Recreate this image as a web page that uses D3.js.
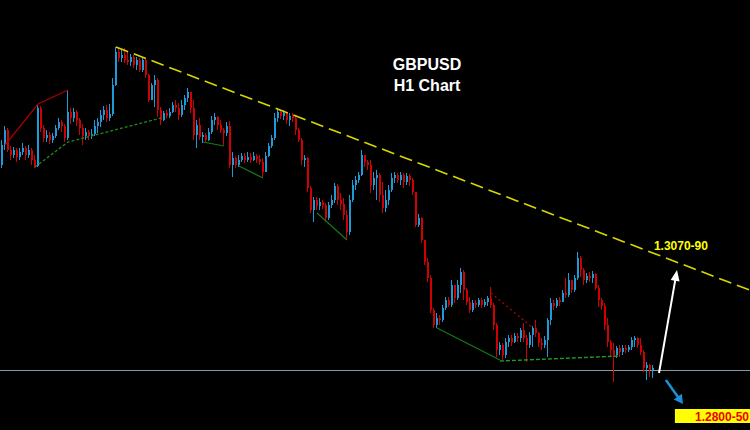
<!DOCTYPE html>
<html><head><meta charset="utf-8">
<script src="https://cdn.jsdelivr.net/npm/d3@7"></script>
<style>html,body{margin:0;padding:0;background:#000;}svg{display:block}</style>
</head><body><svg id="c" width="750" height="430"></svg>
<script>
// GBPUSD H1 candles (open of each bar = previous close)
const firstOpen = 1.3270;
const closes = [
1.3310,1.3340,1.3300,1.3290,1.3300,1.3286,1.3296,1.3304,1.3290,1.3300,
1.3280,1.3268,1.3384,1.3344,1.3324,1.3330,1.3320,1.3328,1.3344,1.3356,
1.3348,1.3324,1.3376,1.3364,1.3376,1.3360,1.3344,1.3328,1.3336,1.3328,
1.3332,1.3348,1.3356,1.3370,1.3380,1.3364,1.3372,1.3430,1.3496,1.3484,
1.3490,1.3480,1.3476,1.3486,1.3470,1.3480,1.3460,1.3480,1.3450,1.3400,
1.3430,1.3440,1.3380,1.3360,1.3374,1.3368,1.3376,1.3390,1.3384,1.3370,
1.3390,1.3404,1.3416,1.3384,1.3330,1.3350,1.3326,1.3330,1.3320,1.3336,
1.3360,1.3366,1.3350,1.3340,1.3334,1.3348,1.3270,1.3284,1.3270,1.3280,
1.3288,1.3280,1.3286,1.3280,1.3288,1.3282,1.3276,1.3256,1.3288,1.3308,
1.3324,1.3364,1.3376,1.3368,1.3374,1.3360,1.3368,1.3364,1.3340,1.3320,
1.3280,1.3284,1.3224,1.3180,1.3200,1.3188,1.3196,1.3190,1.3164,1.3190,
1.3200,1.3228,1.3200,1.3192,1.3170,1.3136,1.3200,1.3230,1.3240,1.3250,
1.3290,1.3276,1.3270,1.3230,1.3244,1.3250,1.3210,1.3184,1.3200,1.3220,
1.3244,1.3250,1.3240,1.3250,1.3236,1.3248,1.3240,1.3216,1.3150,1.3164,
1.3120,1.3076,1.3044,1.2980,1.2950,1.2964,1.2960,1.2984,1.3000,1.2990,
1.3030,1.3004,1.3030,1.3056,1.3020,1.2996,1.2980,1.2994,1.2990,1.3000,
1.2990,1.2996,1.3004,1.2990,1.2950,1.2900,1.2910,1.2890,1.2916,1.2924,
1.2916,1.2928,1.2924,1.2940,1.2924,1.2910,1.2930,1.2944,1.2934,1.2914,
1.2910,1.2920,1.2960,1.2994,1.2988,1.3000,1.2996,1.3014,1.3010,1.3040,
1.3020,1.3044,1.3084,1.3060,1.3040,1.3048,1.3044,1.3052,1.3024,1.3000,
1.2988,1.2950,1.2916,1.2900,1.2890,1.2904,1.2896,1.2904,1.2900,1.2906,
1.2920,1.2924,1.2910,1.2896,1.2864,1.2870,1.2860,1.2864];
const highs = [
1.3320,1.3348,1.3344,1.3308,1.3306,1.3304,1.3304,1.3314,1.3308,1.3310,
1.3304,1.3290,1.3392,1.3388,1.3350,1.3340,1.3336,1.3334,1.3350,1.3364,
1.3360,1.3352,1.3420,1.3384,1.3384,1.3380,1.3364,1.3352,1.3344,1.3340,
1.3342,1.3360,1.3364,1.3380,1.3388,1.3390,1.3392,1.3444,1.3506,1.3504,
1.3500,1.3504,1.3496,1.3492,1.3490,1.3486,1.3484,1.3484,1.3484,1.3452,
1.3434,1.3450,1.3444,1.3386,1.3378,1.3380,1.3384,1.3396,1.3400,1.3394,
1.3400,1.3410,1.3424,1.3416,1.3400,1.3360,1.3364,1.3336,1.3334,1.3344,
1.3368,1.3374,1.3368,1.3360,1.3344,1.3356,1.3358,1.3296,1.3288,1.3290,
1.3294,1.3294,1.3296,1.3294,1.3296,1.3292,1.3290,1.3284,1.3296,1.3314,
1.3330,1.3374,1.3384,1.3380,1.3380,1.3376,1.3374,1.3374,1.3370,1.3344,
1.3324,1.3290,1.3286,1.3228,1.3206,1.3206,1.3204,1.3200,1.3194,1.3196,
1.3210,1.3234,1.3232,1.3214,1.3204,1.3180,1.3210,1.3240,1.3248,1.3256,
1.3300,1.3290,1.3280,1.3280,1.3256,1.3260,1.3254,1.3236,1.3220,1.3230,
1.3254,1.3256,1.3254,1.3256,1.3254,1.3254,1.3252,1.3244,1.3216,1.3172,
1.3166,1.3120,1.3084,1.3050,1.2984,1.2974,1.2970,1.2990,1.3006,1.3006,
1.3040,1.3030,1.3040,1.3064,1.3060,1.3024,1.3006,1.3000,1.3000,1.3004,
1.3004,1.3002,1.3008,1.3026,1.2994,1.2954,1.2916,1.2914,1.2924,1.2930,
1.2930,1.2934,1.2934,1.2944,1.2954,1.2930,1.2936,1.2948,1.2960,1.2936,
1.2924,1.2928,1.2964,1.3004,1.3000,1.3004,1.3006,1.3020,1.3044,1.3054,
1.3040,1.3050,1.3096,1.3088,1.3064,1.3054,1.3056,1.3058,1.3054,1.3030,
1.3004,1.2994,1.2964,1.2920,1.2914,1.2908,1.2910,1.2910,1.2910,1.2910,
1.2926,1.2928,1.2926,1.2924,1.2900,1.2876,1.2872,1.2870];
const lows = [
1.3264,1.3300,1.3296,1.3280,1.3284,1.3276,1.3280,1.3290,1.3280,1.3284,
1.3270,1.3264,1.3266,1.3336,1.3316,1.3316,1.3312,1.3314,1.3324,1.3340,
1.3336,1.3316,1.3320,1.3352,1.3356,1.3348,1.3330,1.3310,1.3320,1.3320,
1.3322,1.3328,1.3334,1.3346,1.3360,1.3356,1.3358,1.3368,1.3428,1.3476,
1.3476,1.3474,1.3470,1.3468,1.3464,1.3460,1.3456,1.3456,1.3444,1.3396,
1.3400,1.3386,1.3366,1.3350,1.3358,1.3364,1.3364,1.3374,1.3376,1.3360,
1.3366,1.3380,1.3396,1.3374,1.3320,1.3304,1.3320,1.3314,1.3314,1.3318,
1.3332,1.3350,1.3340,1.3334,1.3310,1.3328,1.3264,1.3246,1.3264,1.3266,
1.3276,1.3274,1.3276,1.3274,1.3278,1.3274,1.3270,1.3244,1.3256,1.3286,
1.3304,1.3320,1.3356,1.3362,1.3360,1.3352,1.3348,1.3356,1.3330,1.3316,
1.3270,1.3266,1.3216,1.3174,1.3156,1.3180,1.3180,1.3182,1.3156,1.3160,
1.3184,1.3194,1.3190,1.3180,1.3160,1.3120,1.3130,1.3196,1.3220,1.3234,
1.3248,1.3266,1.3260,1.3214,1.3220,1.3200,1.3196,1.3174,1.3176,1.3190,
1.3216,1.3234,1.3234,1.3230,1.3224,1.3230,1.3228,1.3210,1.3146,1.3146,
1.3114,1.3070,1.3036,1.2974,1.2944,1.2944,1.2950,1.2956,1.2980,1.2986,
1.2986,1.2994,1.3000,1.3014,1.3000,1.2990,1.2974,1.2976,1.2984,1.2986,
1.2984,1.2986,1.2988,1.2984,1.2940,1.2886,1.2890,1.2880,1.2884,1.2906,
1.2908,1.2914,1.2916,1.2916,1.2916,1.2876,1.2904,1.2906,1.2926,1.2906,
1.2900,1.2904,1.2886,1.2950,1.2980,1.2984,1.2988,1.2996,1.3004,1.3006,
1.3014,1.3016,1.3040,1.3046,1.3030,1.3034,1.3036,1.3034,1.3020,1.2986,
1.2980,1.2940,1.2906,1.2886,1.2836,1.2884,1.2886,1.2890,1.2894,1.2896,
1.2900,1.2906,1.2904,1.2890,1.2856,1.2840,1.2846,1.2844];

// Annotations: [bar index, price]
const titleLines = ["GBPUSD", "H1 Chart"];
const trendLine = [[38, 1.3506], [250, 1.3018]];
const zigzagHighs = [[1, 1.3310], [12, 1.3392], [22, 1.3420]];
const supportDashed = [[11, 1.3266], [22, 1.3316], [53, 1.3364]];
const swingLowLines = [
  [[67, 1.3316], [74, 1.3308]],
  [[79, 1.3268], [87, 1.3244]],
  [[105, 1.3174], [115, 1.3120]],
  [[145, 1.2944], [166, 1.2880]]
];
const redDotted = [[163, 1.3014], [177, 1.2944]];
const greenFlatDashed = [[166, 1.2878], [206, 1.2888]];
const levelPrice = 1.2860;
const upTarget = { label: "1.3070-90", at: [217.3, 1.3100], from: [219, 1.2854], to: [225, 1.3060] };
const downTarget = { label: "1.2800-50", box: [[224.3, 1.2782], [251, 1.2754]], at: [231, 1.2758], from: [221.3, 1.2840], to: [227, 1.2792] };

const svg = d3.select("#c");
const W = 750, H = 430;
svg.append("rect").attr("width", W).attr("height", H).attr("fill", "#000");

const x = d3.scaleLinear().domain([0, 217]).range([2, 653]);
const y = d3.scaleLinear().domain([1.36, 1.274]).range([0, 430]);

const line = d3.line().x(d => x(d[0])).y(d => y(d[1]));

// level line
svg.append("line").attr("x1", 0).attr("x2", W)
  .attr("y1", Math.round(y(levelPrice)) + 0.5).attr("y2", Math.round(y(levelPrice)) + 0.5)
  .attr("stroke", "#8a97a4").attr("stroke-width", 1);

// candles
const bars = closes.map((c, i) => ({ i, o: i ? closes[i - 1] : firstOpen, h: highs[i], l: lows[i], c }));
const up = "#1e9ad6", dn = "#d20000";
const cg = svg.append("g");
cg.selectAll("line").data(bars).join("line")
  .attr("x1", d => x(d.i) - 0.5).attr("x2", d => x(d.i) - 0.5)
  .attr("y1", d => y(d.h)).attr("y2", d => y(d.l))
  .attr("stroke", d => d.c >= d.o ? up : dn).attr("stroke-width", 1);
cg.selectAll("rect").data(bars).join("rect")
  .attr("x", d => x(d.i) - 1).attr("width", 2)
  .attr("y", d => y(Math.max(d.o, d.c)))
  .attr("height", d => Math.max(1, Math.abs(y(d.o) - y(d.c))))
  .attr("fill", d => d.c >= d.o ? up : dn);

// indicator lines
svg.append("path").attr("d", line(zigzagHighs)).attr("fill", "none").attr("stroke", "#a80000").attr("stroke-width", 1.2);
svg.append("path").attr("d", line(supportDashed)).attr("fill", "none").attr("stroke", "#1c8a1c").attr("stroke-width", 1.3).attr("stroke-dasharray", "3,2");
swingLowLines.forEach(s => svg.append("path").attr("d", line(s)).attr("fill", "none").attr("stroke", "#157a15").attr("stroke-width", 1.2));
svg.append("path").attr("d", line(redDotted)).attr("fill", "none").attr("stroke", "#b00000").attr("stroke-width", 1.3).attr("stroke-dasharray", "2,3");
svg.append("path").attr("d", line(greenFlatDashed)).attr("fill", "none").attr("stroke", "#1e9e1e").attr("stroke-width", 1.3).attr("stroke-dasharray", "4,2");

// trend line
svg.append("path").attr("d", line(trendLine)).attr("fill", "none").attr("stroke", "#d8d800").attr("stroke-width", 1.6).attr("stroke-dasharray", "13,6");

// arrows
function arrow(a, color, w, hl, hw) {
  const x1 = x(a.from[0]), y1 = y(a.from[1]), x2 = x(a.to[0]), y2 = y(a.to[1]);
  const dx = x2 - x1, dy = y2 - y1, len = Math.hypot(dx, dy), ux = dx / len, uy = dy / len;
  const bx = x2 - ux * hl, by = y2 - uy * hl;
  svg.append("line").attr("x1", x1).attr("y1", y1).attr("x2", bx + ux * 1).attr("y2", by + uy * 1)
    .attr("stroke", color).attr("stroke-width", w);
  svg.append("polygon").attr("points", [[x2, y2], [bx - uy * hw, by + ux * hw], [bx + uy * hw, by - ux * hw]].map(p => p.join(",")).join(" "))
    .attr("fill", color);
}
arrow(upTarget, "#ffffff", 2, 11, 4.5);
arrow(downTarget, "#1a90d8", 2.5, 9, 5);

// labels
svg.append("text").attr("x", x(upTarget.at[0])).attr("y", y(upTarget.at[1]))
  .attr("font-family", "Liberation Sans, Arial, sans-serif").attr("font-weight", "bold").attr("font-size", 12)
  .attr("fill", "#ffff00").text(upTarget.label);
const b = downTarget.box;
svg.append("rect").attr("x", x(b[0][0])).attr("y", y(b[0][1]))
  .attr("width", x(b[1][0]) - x(b[0][0])).attr("height", y(b[1][1]) - y(b[0][1])).attr("fill", "#ffff00");
svg.append("text").attr("x", x(downTarget.at[0])).attr("y", y(downTarget.at[1]))
  .attr("font-family", "Liberation Sans, Arial, sans-serif").attr("font-weight", "bold").attr("font-size", 12)
  .attr("fill", "#ee0000").text(downTarget.label);

// title
svg.selectAll("text.title").data(titleLines).join("text").attr("class", "title")
  .attr("x", 427).attr("y", (d, i) => 70 + i * 21).attr("text-anchor", "middle")
  .attr("font-family", "Liberation Sans, Arial, sans-serif").attr("font-weight", "bold").attr("font-size", 16)
  .attr("fill", "#ffffff").text(d => d);
</script></body></html>
